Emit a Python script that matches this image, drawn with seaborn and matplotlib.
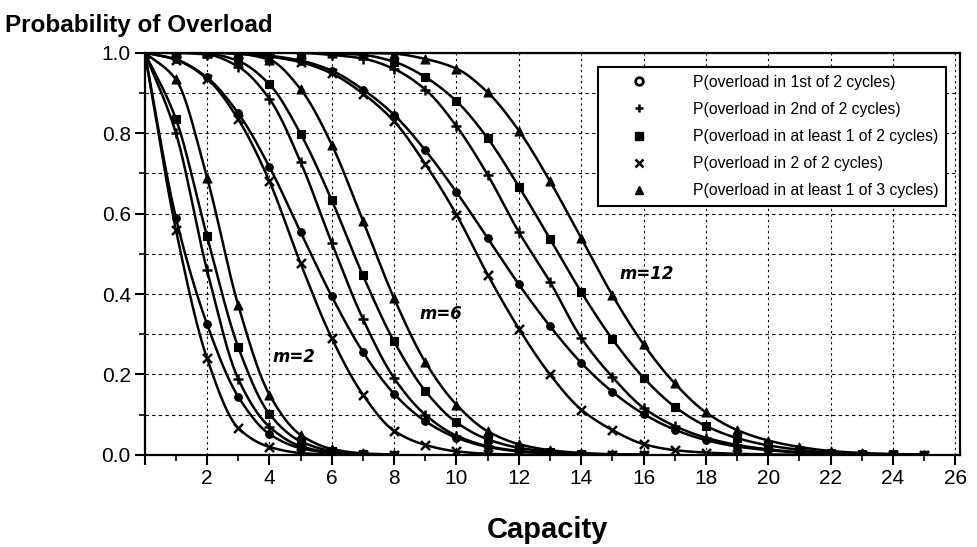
import numpy as np
import pandas as pd
import matplotlib
matplotlib.use("Agg")
import matplotlib.pyplot as plt
import seaborn as sns
from matplotlib.lines import Line2D

# ---------------- data ----------------
capacity_m2 = list(range(0, 9))
capacity_m6 = list(range(0, 17))
capacity_m12 = list(range(0, 26))

m2_first = [1.0, 0.59, 0.325, 0.145, 0.052, 0.017, 0.005, 0.001, 0.0]
m2_second = [1.0, 0.80, 0.459, 0.189, 0.070, 0.022, 0.006, 0.0015, 0.0]
m2_atleast1of2 = [1.0, 0.835, 0.543, 0.268, 0.102, 0.034, 0.010, 0.0025, 0.0005]
m2_both = [1.0, 0.56, 0.24, 0.067, 0.020, 0.005, 0.001, 0.0, 0.0]
m2_atleast1of3 = [1.0, 0.933, 0.689, 0.372, 0.150, 0.050, 0.015, 0.004, 0.001]

m6_first = [1.0, 0.983, 0.938, 0.849, 0.716, 0.554, 0.394, 0.256, 0.152, 0.084,
            0.043, 0.020, 0.009, 0.004, 0.0015, 0.0006, 0.0]
m6_second = [1.0, 0.999, 0.995, 0.965, 0.885, 0.728, 0.527, 0.338, 0.191, 0.100,
             0.048, 0.022, 0.010, 0.004, 0.0015, 0.0005, 0.0]
m6_atleast1of2 = [1.0, 1.0, 0.998, 0.979, 0.921, 0.798, 0.633, 0.446, 0.282, 0.159,
                  0.081, 0.039, 0.018, 0.008, 0.003, 0.001, 0.0]
m6_both = [1.0, 0.982, 0.935, 0.834, 0.680, 0.476, 0.290, 0.150, 0.060, 0.025,
           0.009, 0.003, 0.001, 0.0, 0.0, 0.0, 0.0]
m6_atleast1of3 = [1.0, 1.0, 1.0, 0.997, 0.982, 0.909, 0.771, 0.582, 0.389, 0.231,
                  0.125, 0.059, 0.027, 0.012, 0.005, 0.002, 0.0007]

m12_first = [1.0, 1.0, 1.0, 0.998, 0.992, 0.980, 0.955, 0.908, 0.845, 0.757,
             0.653, 0.539, 0.424, 0.320, 0.229, 0.157, 0.102, 0.063, 0.037, 0.021,
             0.012, 0.006, 0.003, 0.0015, 0.0007, 0.0003]
m12_second = [1.0, 1.0, 1.0, 1.0, 1.0, 0.999, 0.994, 0.985, 0.959, 0.908,
              0.817, 0.696, 0.554, 0.430, 0.291, 0.194, 0.117, 0.072, 0.043, 0.025,
              0.014, 0.007, 0.003, 0.0015, 0.0007, 0.0003]
m12_atleast1of2 = [1.0, 1.0, 1.0, 1.0, 1.0, 1.0, 0.998, 0.994, 0.977, 0.939,
                   0.879, 0.787, 0.667, 0.537, 0.405, 0.288, 0.192, 0.120, 0.072, 0.042,
                   0.024, 0.013, 0.006, 0.003, 0.0015, 0.0007]
m12_both = [1.0, 1.0, 1.0, 0.997, 0.990, 0.976, 0.948, 0.898, 0.829, 0.723,
            0.597, 0.448, 0.314, 0.200, 0.113, 0.062, 0.027, 0.012, 0.006, 0.003,
            0.0015, 0.0006, 0.0, 0.0, 0.0, 0.0]
m12_atleast1of3 = [1.0, 1.0, 1.0, 1.0, 1.0, 1.0, 1.0, 0.999, 0.997, 0.984,
                   0.960, 0.901, 0.806, 0.680, 0.539, 0.397, 0.275, 0.178, 0.106, 0.062,
                   0.036, 0.020, 0.010, 0.005, 0.0025, 0.001]

series_labels = ["P(overload in 1st of 2 cycles)",
                 "P(overload in 2nd of 2 cycles)",
                 "P(overload in at least 1 of 2 cycles)",
                 "P(overload in 2 of 2 cycles)",
                 "P(overload in at least 1 of 3 cycles)"]

group_labels = ["m=2", "m=6", "m=12"]

groups = [
    (group_labels[0], capacity_m2, [m2_first, m2_second, m2_atleast1of2, m2_both, m2_atleast1of3]),
    (group_labels[1], capacity_m6, [m6_first, m6_second, m6_atleast1of2, m6_both, m6_atleast1of3]),
    (group_labels[2], capacity_m12, [m12_first, m12_second, m12_atleast1of2, m12_both, m12_atleast1of3]),
]

rows = []
for gname, caps, sers in groups:
    for lab, vals in zip(series_labels, sers):
        for c, v in zip(caps, vals):
            rows.append({"group": gname, "series": lab, "capacity": c, "prob": v})
df = pd.DataFrame(rows)

# ---------------- style ----------------
sns.set_theme(style="white")
plt.rcParams["font.family"] = ["Liberation Sans", "DejaVu Sans"]
plt.rcParams["text.color"] = "black"
plt.rcParams["axes.labelcolor"] = "black"
plt.rcParams["xtick.color"] = "black"
plt.rcParams["ytick.color"] = "black"


def pchip(x, y, xs):
    x = np.asarray(x, float)
    y = np.asarray(y, float)
    h = np.diff(x)
    d = np.diff(y) / h
    n = len(x)
    m = np.zeros(n)
    for k in range(1, n - 1):
        if d[k - 1] * d[k] > 0:
            w1 = 2 * h[k] + h[k - 1]
            w2 = h[k] + 2 * h[k - 1]
            m[k] = (w1 + w2) / (w1 / d[k - 1] + w2 / d[k])
    m[0] = d[0]
    m[-1] = d[-1]
    idx = np.clip(np.searchsorted(x, xs) - 1, 0, n - 2)
    t = (xs - x[idx]) / h[idx]
    h00 = 2 * t**3 - 3 * t**2 + 1
    h10 = t**3 - 2 * t**2 + t
    h01 = -2 * t**3 + 3 * t**2
    h11 = t**3 - t**2
    return (h00 * y[idx] + h10 * h[idx] * m[idx] + h01 * y[idx + 1]
            + h11 * h[idx] * m[idx + 1])


fig = plt.figure(figsize=(9.77, 5.47), dpi=100)
ax = fig.add_axes([0.1481, 0.1682, 0.8345, 0.7358])

marker_specs = {
    series_labels[0]: dict(marker="o", s=30),
    series_labels[1]: dict(marker="+", s=60),
    series_labels[2]: dict(marker="s", s=34),
    series_labels[3]: dict(marker="x", s=42),
    series_labels[4]: dict(marker="^", s=42),
}

for (gname, series), sub in df.groupby(["group", "series"], sort=False):
    sub = sub.sort_values("capacity")
    xs = np.linspace(sub["capacity"].min(), sub["capacity"].max(), 400)
    ys = np.clip(pchip(sub["capacity"].values, sub["prob"].values, xs), 0, 1)
    sns.lineplot(x=xs, y=ys, color="black", linewidth=1.8, ax=ax,
                 estimator=None, sort=False, zorder=3)
    spec = marker_specs[series]
    if spec["marker"] in ("+", "x"):
        sns.scatterplot(data=sub, x="capacity", y="prob", marker=spec["marker"],
                        s=spec["s"], color="black", linewidth=1.8, ax=ax, zorder=4)
    else:
        sns.scatterplot(data=sub, x="capacity", y="prob", marker=spec["marker"],
                        s=spec["s"], color="black", edgecolor="black", linewidth=0.8,
                        ax=ax, zorder=4)

ax.set_xlim(0, 26.15)
ax.set_ylim(0, 1.0)
ax.set_xticks(np.arange(0, 27, 2))
ax.set_xticklabels([""] + [str(v) for v in range(2, 27, 2)])
ax.set_xticks(np.arange(1, 27, 2), minor=True)
ax.set_yticks(np.arange(0, 1.01, 0.2))
ax.set_yticklabels([f"{v:.1f}" for v in np.arange(0, 1.01, 0.2)])
ax.set_yticks(np.arange(0.1, 1.0, 0.2), minor=True)
ax.set_xlabel("")
ax.set_ylabel("")

ax.grid(which="major", axis="x", color="black", linestyle=(0, (2, 3)), linewidth=0.8, zorder=1)
ax.grid(which="both", axis="y", color="black", linestyle=(0, (3, 3)), linewidth=0.8, zorder=1)
ax.set_axisbelow(True)

for sp in ax.spines.values():
    sp.set_color("black")
    sp.set_linewidth(1.6)

ax.tick_params(which="major", direction="out", length=7, width=1.5, colors="black",
               labelsize=15, pad=3, bottom=True, left=True)
ax.tick_params(which="minor", direction="out", length=4, width=1.2, colors="black",
               bottom=True, left=True)

# group labels
for txt, x, y in [(group_labels[0], 4.8, 0.243), (group_labels[1], 9.5, 0.35),
                  (group_labels[2], 16.1, 0.45)]:
    ax.text(x, y, txt, fontfamily="DejaVu Sans", fontweight="bold", fontstyle="italic",
            fontsize=12, ha="center", va="center", zorder=5, color="black")

# legend
handles = []
for lab in series_labels:
    spec = marker_specs[lab]
    mk = spec["marker"]
    if mk in ("+", "x"):
        h = Line2D([], [], marker=mk, color="black", linestyle="none", markersize=6, mew=1.8)
    elif mk == "o":
        h = Line2D([], [], marker=mk, color="black", mfc="white", linestyle="none",
                   markersize=5.5, mew=2.0)
    else:
        h = Line2D([], [], marker=mk, color="black", linestyle="none", markersize=6)
    handles.append(h)
leg = ax.legend(handles, series_labels, loc="upper left", bbox_to_anchor=(0.556, 0.964),
                borderaxespad=0, frameon=True, fancybox=False, edgecolor="black",
                framealpha=1, prop={"family": "Liberation Sans", "size": 11.3},
                handlelength=4.2, handletextpad=1.34, borderpad=0.5, labelspacing=0.77)
leg.get_frame().set_linewidth(1.5)
leg.set_zorder(10)
for t in leg.get_texts():
    t.set_color("black")

fig.text(5 / 977, 1 - 32 / 547, "Probability of Overload", fontsize=17.5,
         fontweight="bold", ha="left", va="baseline", color="black")
fig.text(548 / 977, 1 - 538 / 547, "Capacity", fontsize=21, fontweight="bold",
         ha="center", va="baseline", color="black")

fig.savefig("out.png", dpi=100)
